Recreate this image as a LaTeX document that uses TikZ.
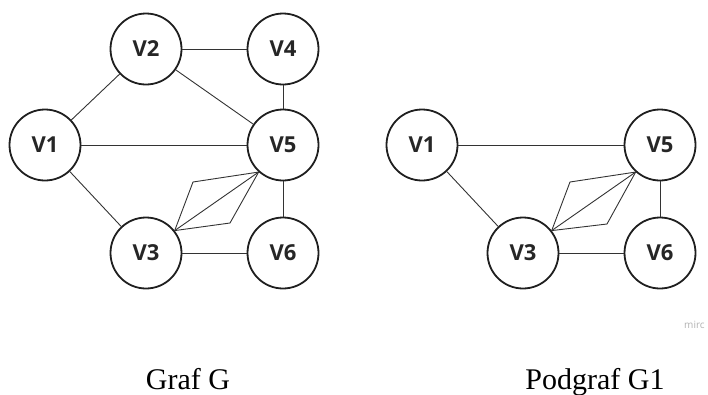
\documentclass[tikz,border=0pt]{standalone}
\usepackage{fontspec}
\setmainfont{Liberation Serif}
\newfontfamily\vfont{Open Sans}
\begin{document}
\begin{tikzpicture}[x=1pt,y=-1pt,
  vtx/.style={circle,draw=black!88,line width=1.8pt,minimum size=71pt,inner sep=0pt,font=\vfont\bfseries\fontsize{22}{24}\selectfont,text=black!85},
  edge/.style={draw=black!80,line width=0.9pt},
  caption/.style={font=\fontsize{30}{32}\selectfont,text=black,anchor=base}]
\useasboundingbox (0,0) rectangle (708,394);
% Graf G
\node[vtx] (a1) at (45,145) {V1};
\node[vtx] (a2) at (146,49) {V2};
\node[vtx] (a4) at (283,49) {V4};
\node[vtx] (a5) at (283,145) {V5};
\node[vtx] (a3) at (146,253) {V3};
\node[vtx] (a6) at (283,253) {V6};
\draw[edge] (a2) -- (a4);
\draw[edge] (a2) -- (a5);
\draw[edge] (a4) -- (a5);
\draw[edge] (a1) -- (a2);
\draw[edge] (a1) -- (a5);
\draw[edge] (a1) -- (a3);
\draw[edge] (a3) -- (a6);
\draw[edge] (a5) -- (a6);
\coordinate (au) at (193,182);
\coordinate (al) at (230,223);
\draw[edge] (a3.38) -- (a5.228);
\draw[edge] (a3.38) -- (au) -- (a5.228);
\draw[edge] (a3.38) -- (al) -- (a5.228);
% Podgraf G1
\node[vtx] (b1) at (422,145) {V1};
\node[vtx] (b5) at (660,145) {V5};
\node[vtx] (b3) at (523,253) {V3};
\node[vtx] (b6) at (660,253) {V6};
\draw[edge] (b1) -- (b5);
\draw[edge] (b1) -- (b3);
\draw[edge] (b3) -- (b6);
\draw[edge] (b5) -- (b6);
\coordinate (bu) at (570,182);
\coordinate (bl) at (607,224);
\draw[edge] (b3.38) -- (b5.228);
\draw[edge] (b3.38) -- (bu) -- (b5.228);
\draw[edge] (b3.38) -- (bl) -- (b5.228);
% captions
\node[caption] (capG) at (188,389) {Graf G};
\node[caption] (capG1) at (595,389) {Podgraf G1};
\node[anchor=west,inner sep=0pt,font=\vfont\fontsize{10}{11}\selectfont,text=black!30] (wm) at (684,325) {mirc};
\end{tikzpicture}
\end{document}
